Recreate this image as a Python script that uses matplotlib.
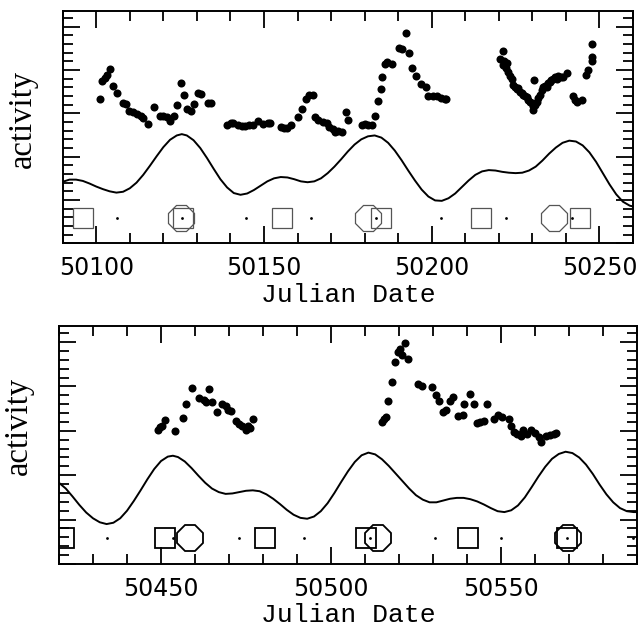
import matplotlib
matplotlib.use('Agg')
import matplotlib.pyplot as plt
from matplotlib.ticker import MultipleLocator, FormatStrFormatter

# ---- first season (JD 50090 - 50260) ----
jd1 = [50101.0, 50101.8, 50102.6, 50103.2, 50104.0, 50105.0, 50106.1, 50108.1, 50108.9,
       50109.9, 50111.0, 50112.0, 50113.2, 50114.0, 50115.3, 50117.2, 50119.1, 50119.9,
       50121.1, 50122.1, 50123.3, 50124.2, 50125.2, 50126.3, 50127.2, 50128.1, 50129.1,
       50130.3, 50131.1, 50133.3, 50134.1,
       50139.0, 50140.1, 50140.9, 50142.3, 50143.4, 50144.3, 50145.6, 50146.8, 50148.2,
       50149.8, 50151.1, 50151.9, 50155.1, 50155.9, 50156.8, 50158.0, 50160.2, 50161.2,
       50162.4, 50163.3, 50164.5, 50165.1, 50166.1, 50167.5, 50168.8, 50169.4, 50170.6,
       50171.2, 50172.2, 50173.2, 50174.3, 50175.1,
       50179.2, 50180.1, 50181.0, 50182.2, 50183.2, 50184.0, 50185.0, 50185.3, 50186.1,
       50186.8, 50188.3, 50190.1, 50191.1, 50192.2, 50193.2, 50194.2, 50195.4, 50196.9,
       50198.3, 50198.9, 50200.3, 50201.7, 50202.7, 50203.9, 50204.4,
       50221.1, 50220.3, 50221.5, 50222.3, 50221.1, 50222.1, 50222.8, 50223.3, 50223.8,
       50224.1, 50224.8, 50225.3, 50225.8, 50226.3, 50226.8, 50227.3, 50227.8, 50228.3,
       50228.8, 50229.3, 50229.8, 50230.1, 50230.3, 50230.5, 50230.8, 50231.3, 50231.8,
       50232.3, 50232.8, 50233.3, 50233.8, 50234.3, 50234.8, 50235.2, 50235.7, 50236.2,
       50236.7, 50237.2, 50237.7, 50238.4, 50239.2, 50240.2,
       50242.2, 50242.7, 50243.2, 50244.7, 50246.0, 50246.5, 50247.7, 50247.7, 50247.8]
act1 = [3.32, 3.75, 3.81, 3.88, 4.02, 3.64, 3.48, 3.23, 3.22,
        3.06, 3.02, 2.98, 2.95, 2.90, 2.75, 3.15, 2.95, 2.95,
        2.91, 2.83, 2.95, 3.19, 3.70, 3.42, 3.10, 3.06, 3.22,
        3.46, 3.45, 3.24, 3.25,
        2.73, 2.77, 2.78, 2.72, 2.70, 2.70, 2.73, 2.73, 2.83,
        2.75, 2.77, 2.78, 2.68, 2.66, 2.67, 2.72, 2.91, 3.10,
        3.32, 3.42, 3.43, 2.91, 2.85, 2.81, 2.78, 2.68, 2.64,
        2.58, 2.60, 2.56, 3.02, 2.85,
        2.72, 2.75, 2.73, 2.73, 2.93, 3.29, 3.56, 3.83, 4.14,
        4.18, 4.14, 4.50, 4.48, 4.85, 4.39, 4.04, 3.87, 3.68,
        3.60, 3.41, 3.39, 3.41, 3.35, 3.33, 3.32,
        4.43, 4.25, 4.21, 4.17, 4.12, 4.04, 3.96, 3.86, 3.79,
        3.66, 3.60, 3.56, 3.58, 3.50, 3.46, 3.43, 3.39, 3.37,
        3.31, 3.27, 3.23, 3.16, 3.08, 3.77, 3.19, 3.27, 3.35,
        3.43, 3.54, 3.60, 3.63, 3.60, 3.69, 3.73, 3.77, 3.79,
        3.83, 3.79, 3.86, 3.85, 3.83, 3.94,
        3.39, 3.31, 3.27, 3.30, 3.89, 3.99, 4.20, 4.30, 4.60]

model_jd1 = [50090, 50092, 50094, 50096, 50098, 50100, 50102, 50104, 50106, 50108,
             50110, 50112, 50114, 50116, 50118, 50120, 50122, 50124, 50125.5, 50127,
             50129, 50131, 50133, 50135, 50137, 50139, 50141, 50143, 50145, 50147,
             50149, 50151, 50153, 50155, 50157, 50159, 50161, 50163, 50165, 50167,
             50169, 50171, 50173, 50175, 50177, 50179, 50181, 50183, 50185, 50187,
             50189, 50191, 50193, 50195, 50197, 50199, 50201, 50203, 50205, 50207,
             50209, 50211, 50213, 50215, 50217, 50219, 50221, 50223, 50225, 50227,
             50229, 50231, 50233, 50235, 50237, 50239, 50241, 50243, 50245, 50247,
             50249, 50251, 50253, 50255, 50257, 50259, 50260]
model1 = [1.42, 1.47, 1.47, 1.44, 1.38, 1.31, 1.25, 1.20, 1.17, 1.19,
          1.27, 1.40, 1.58, 1.79, 2.01, 2.22, 2.39, 2.49, 2.52, 2.49,
          2.38, 2.20, 1.97, 1.72, 1.48, 1.29, 1.16, 1.12, 1.15, 1.23,
          1.33, 1.43, 1.50, 1.53, 1.52, 1.48, 1.43, 1.41, 1.43, 1.50,
          1.62, 1.77, 1.94, 2.12, 2.28, 2.40, 2.47, 2.49, 2.44, 2.32,
          2.14, 1.92, 1.68, 1.45, 1.24, 1.08, 0.99, 0.98, 1.04, 1.15,
          1.30, 1.45, 1.58, 1.66, 1.69, 1.68, 1.65, 1.63, 1.62, 1.63,
          1.68, 1.77, 1.91, 2.07, 2.21, 2.32, 2.37, 2.35, 2.26, 2.10,
          1.88, 1.62, 1.36, 1.13, 0.96, 0.87, 0.85]

square_jd1 = [50096.1, 50125.8, 50155.3, 50184.9, 50214.6, 50244.3]
octagon_jd1 = [50125.2, 50180.9, 50236.6]
dot_jd1 = [50106.1, 50125.6, 50144.7, 50164.1, 50183.4, 50202.7, 50222.1, 50241.7]

# ---- second season (JD 50420 - 50590) ----
jd2 = [50449.2, 50449.7, 50450.2, 50451.3, 50454.2, 50456.4, 50457.3, 50459.2, 50461.3,
       50462.5, 50463.2, 50464.2, 50465.0, 50466.4, 50468.0, 50469.0, 50469.8, 50470.5,
       50472.2, 50473.0, 50473.9, 50474.9, 50475.5, 50476.3, 50477.2,
       50514.9, 50515.5, 50516.1, 50516.9, 50517.9, 50518.7, 50519.7, 50520.3, 50520.9,
       50521.9, 50522.7, 50525.7, 50526.9, 50529.7, 50530.9, 50531.8, 50533.0, 50533.9,
       50535.1, 50536.0, 50537.4, 50538.8, 50539.2, 50540.8, 50542.0, 50543.0, 50543.8,
       50545.0, 50545.9, 50547.8, 50549.0, 50550.2, 50552.3, 50552.9, 50553.7, 50554.7,
       50555.9, 50556.5, 50557.7, 50558.9, 50560.1, 50561.1, 50561.9, 50563.1, 50564.3,
       50565.5, 50566.1]
act2 = [3.02, 3.08, 3.12, 3.25, 3.00, 3.28, 3.60, 3.97, 3.75,
        3.70, 3.66, 3.94, 3.64, 3.43, 3.61, 3.55, 3.48, 3.45,
        3.22, 3.15, 3.11, 3.01, 3.10, 3.07, 3.27,
        3.20, 3.27, 3.31, 3.68, 4.11, 4.55, 4.77, 4.85, 4.70,
        4.98, 4.62, 4.06, 4.02, 3.98, 3.80, 3.68, 3.42, 3.46,
        3.68, 3.76, 3.33, 3.36, 3.61, 3.83, 3.61, 3.18, 3.20,
        3.23, 3.61, 3.27, 3.36, 3.31, 3.27, 3.12, 2.98, 2.93,
        2.88, 3.01, 2.93, 3.01, 2.95, 2.86, 2.76, 2.89, 2.91,
        2.93, 2.95]

model_jd2 = [50420, 50422, 50424, 50426, 50428, 50430, 50432, 50434, 50436, 50438,
             50440, 50442, 50444, 50446, 50448, 50450, 50452, 50453.5, 50455, 50457,
             50459, 50461, 50463, 50465, 50467, 50469, 50471, 50473, 50475, 50477,
             50479, 50481, 50483, 50485, 50487, 50489, 50491, 50493, 50495, 50497,
             50499, 50501, 50503, 50505, 50507, 50509, 50511, 50513, 50515, 50517,
             50519, 50521, 50523, 50525, 50527, 50529, 50531, 50533, 50535, 50537,
             50539, 50541, 50543, 50545, 50547, 50549, 50551, 50553, 50555, 50557,
             50559, 50561, 50563, 50565, 50567, 50569, 50571, 50573, 50575, 50577,
             50579, 50581, 50583, 50585, 50587, 50589, 50590]
model2 = [1.83, 1.70, 1.52, 1.33, 1.16, 1.03, 0.94, 0.90, 0.93, 1.03,
          1.20, 1.42, 1.66, 1.91, 2.14, 2.32, 2.42, 2.44, 2.41, 2.31,
          2.16, 1.99, 1.83, 1.70, 1.62, 1.58, 1.59, 1.62, 1.65, 1.66,
          1.64, 1.57, 1.47, 1.35, 1.22, 1.11, 1.04, 1.02, 1.07, 1.19,
          1.37, 1.60, 1.85, 2.09, 2.30, 2.45, 2.51, 2.47, 2.36, 2.21,
          2.04, 1.87, 1.70, 1.55, 1.45, 1.39, 1.39, 1.43, 1.47, 1.49,
          1.49, 1.46, 1.41, 1.34, 1.26, 1.19, 1.17, 1.21, 1.32, 1.50,
          1.73, 1.97, 2.19, 2.37, 2.48, 2.53, 2.50, 2.40, 2.24, 2.03,
          1.79, 1.57, 1.39, 1.26, 1.19, 1.17, 1.17]

square_jd2 = [50421.4, 50451.3, 50480.7, 50510.2, 50540.2, 50569.5]
octagon_jd2 = [50458.4, 50513.7, 50569.6]
dot_jd2 = [50434.1, 50453.6, 50473.0, 50492.2, 50511.4, 50530.7, 50550.0, 50569.5, 50588.9]


def plot_panel(ax, jd, act, mjd, model, sq, octo, dots, xlim, sym_color, sym_lw):
    row = 0.59  # height of the ephemeris symbol row
    ax.plot(mjd, model, color='black', lw=1.4, zorder=2)
    ax.plot(jd, act, 'o', color='black', ms=5.8, mew=0, zorder=3)
    ax.plot(sq, [row] * len(sq), 's', ms=14.8, mfc='none', mec=sym_color, mew=sym_lw, zorder=2)
    ax.plot(octo, [row] * len(octo), '8', ms=20, mfc='none', mec=sym_color, mew=sym_lw, zorder=2)
    ax.plot(dots, [row] * len(dots), 'o', color='black', ms=2.0, mew=0, zorder=3)

    ax.set_xlim(xlim)
    ax.set_ylim(0, 5.37)
    ax.xaxis.set_major_locator(MultipleLocator(50))
    ax.xaxis.set_minor_locator(MultipleLocator(10))
    ax.xaxis.set_major_formatter(FormatStrFormatter('%d'))
    ax.yaxis.set_major_locator(MultipleLocator(1))
    ax.yaxis.set_minor_locator(MultipleLocator(0.2))
    ax.tick_params(which='both', direction='in', top=True, right=True, width=1.3,
                   labelsize=17, pad=9, labelleft=False)
    ax.tick_params(which='major', length=11.9)
    ax.tick_params(which='minor', length=7.5)
    for s in ax.spines.values():
        s.set_linewidth(1.4)
    ax.set_xlabel('Julian Date', family='Liberation Mono', fontsize=19, labelpad=2)


fig = plt.figure(figsize=(6.42, 6.28), dpi=100)
ax1 = fig.add_axes([62.7 / 642, 1 - 243.3 / 628, 570.3 / 642, 232.6 / 628])
ax2 = fig.add_axes([59 / 642, 1 - 564 / 628, 578 / 642, 238.3 / 628])

plot_panel(ax1, jd1, act1, model_jd1, model1, square_jd1, octagon_jd1, dot_jd1,
           (50090, 50260), '#555555', 0.9)
plot_panel(ax2, jd2, act2, model_jd2, model2, square_jd2, octagon_jd2, dot_jd2,
           (50420, 50590), 'black', 1.3)

fig.text(23 / 642, 1 - 119 / 628, 'activity', rotation=90, ha='center', va='center',
         family='Liberation Serif', fontsize=23.5)
fig.text(19 / 642, 1 - 426 / 628, 'activity', rotation=90, ha='center', va='center',
         family='Liberation Serif', fontsize=23.5)

fig.savefig('out.png', dpi=100)
